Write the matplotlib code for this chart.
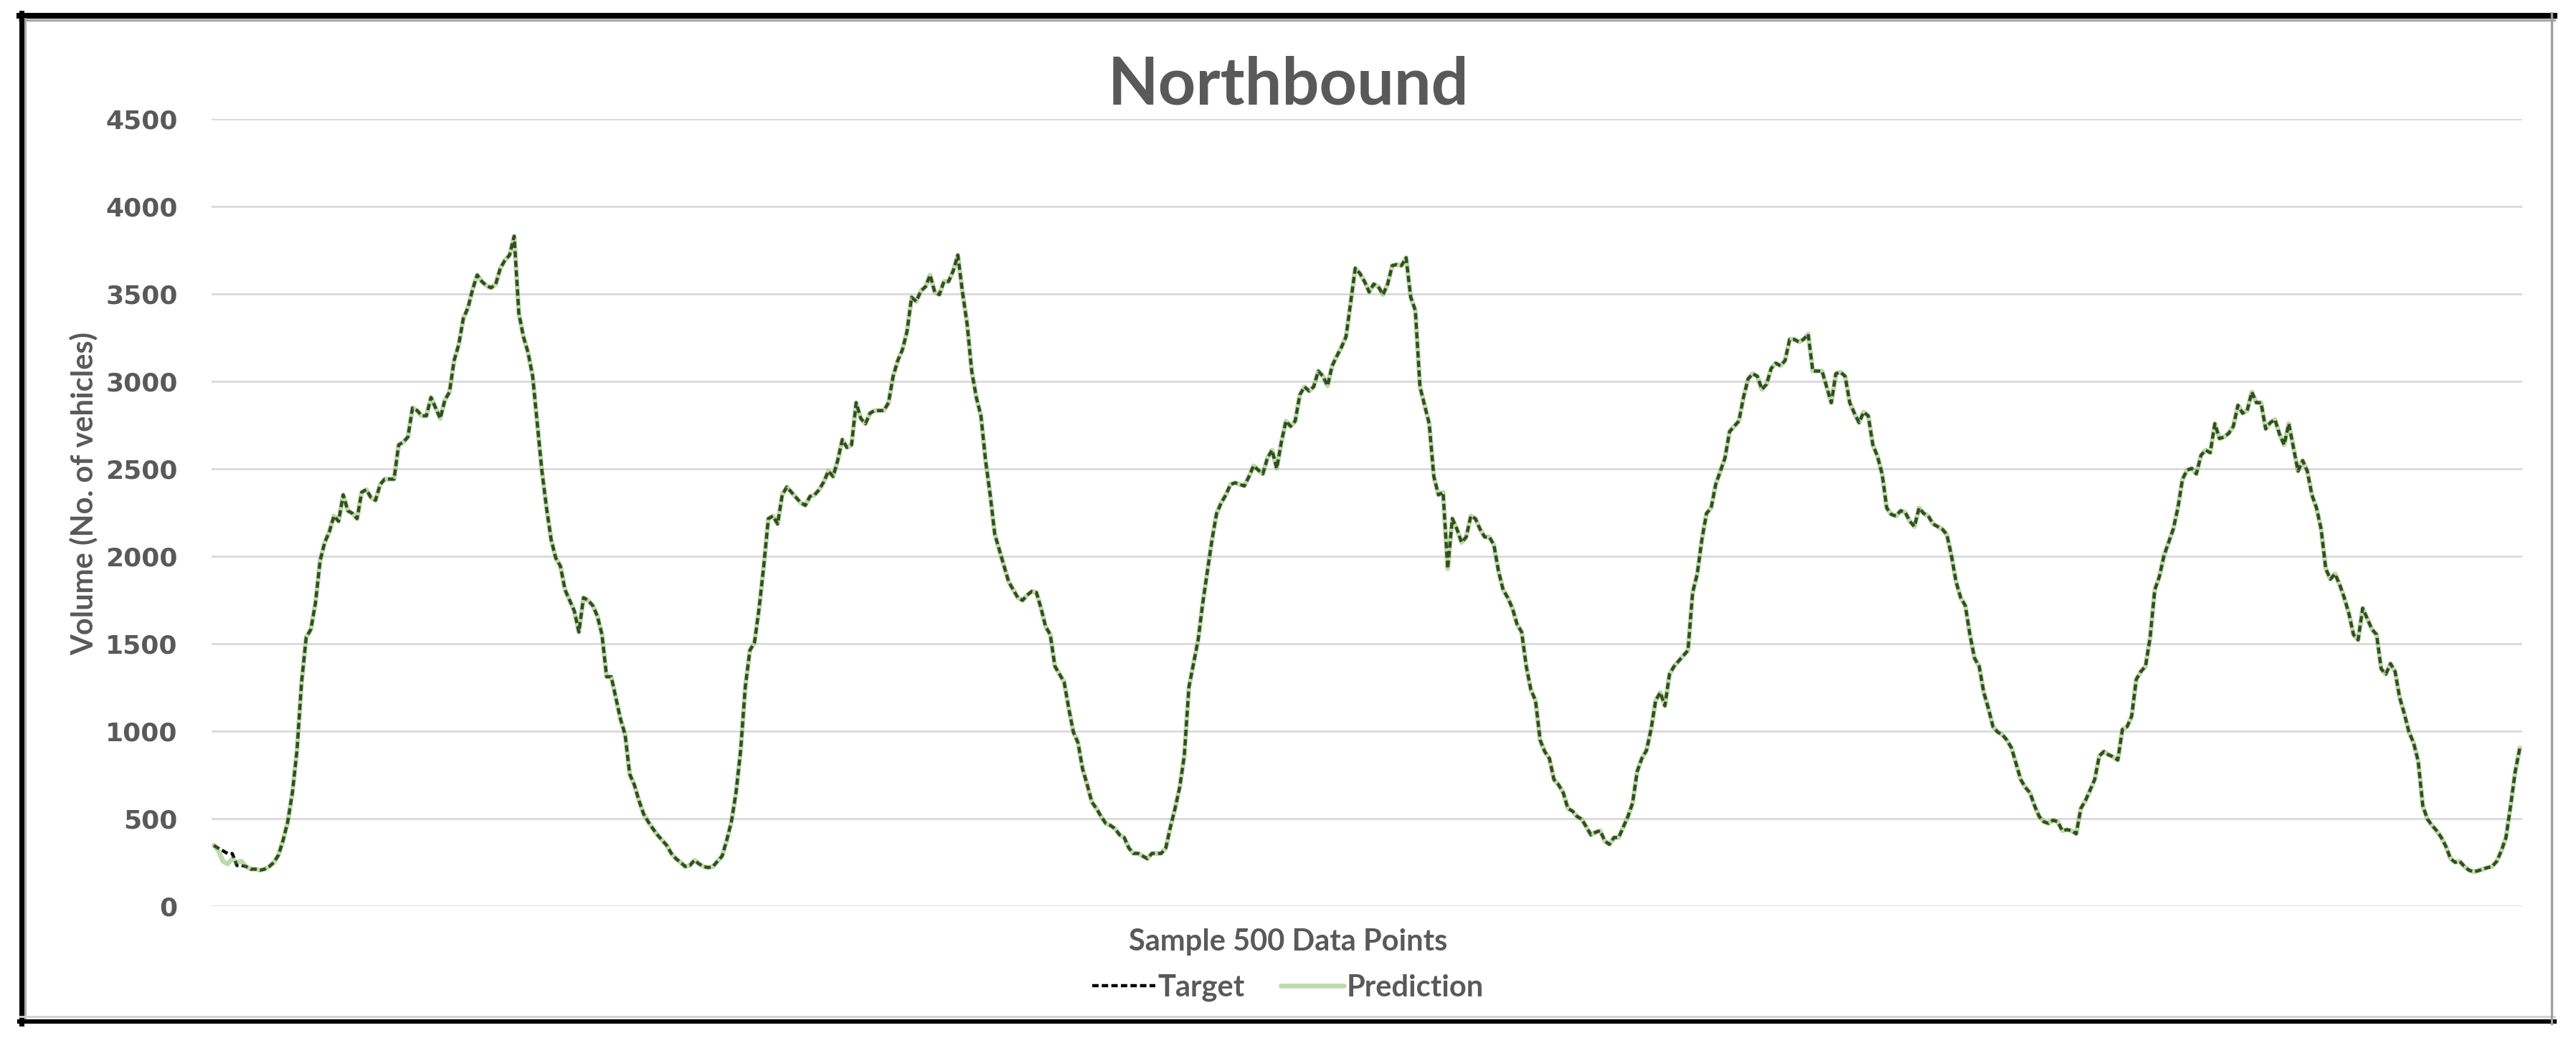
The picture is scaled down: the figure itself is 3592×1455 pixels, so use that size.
import matplotlib
matplotlib.use("Agg")
import matplotlib.pyplot as plt
from matplotlib.lines import Line2D

# hourly-ish traffic volume, 500 samples
target = [
    347, 330, 316, 300, 300, 232, 232, 226, 211, 211,
    205, 211, 226, 250, 292, 377, 482, 648, 889, 1281,
    1537, 1582, 1733, 1974, 2079, 2140, 2230, 2200, 2351, 2260,
    2245, 2215, 2366, 2381, 2336, 2320, 2411, 2441, 2441, 2441,
    2637, 2652, 2682, 2848, 2833, 2803, 2803, 2908, 2848, 2788,
    2893, 2939, 3119, 3210, 3360, 3421, 3526, 3608, 3571, 3547,
    3535, 3556, 3647, 3692, 3722, 3830, 3391, 3255, 3165, 3029,
    2758, 2487, 2276, 2095, 1989, 1944, 1808, 1748, 1688, 1567,
    1763, 1748, 1718, 1658, 1552, 1311, 1311, 1191, 1070, 980,
    754, 693, 603, 527, 482, 443, 407, 377, 347, 301,
    271, 250, 226, 232, 262, 241, 226, 220, 226, 256,
    286, 377, 482, 648, 889, 1251, 1462, 1507, 1703, 1944,
    2215, 2230, 2185, 2351, 2396, 2366, 2336, 2306, 2291, 2342,
    2351, 2381, 2426, 2487, 2456, 2547, 2667, 2622, 2637, 2878,
    2788, 2758, 2818, 2833, 2833, 2833, 2878, 3029, 3119, 3180,
    3285, 3481, 3457, 3517, 3541, 3608, 3511, 3496, 3571, 3571,
    3632, 3722, 3511, 3330, 3059, 2908, 2803, 2547, 2351, 2125,
    2034, 1944, 1854, 1808, 1763, 1748, 1778, 1799, 1793, 1703,
    1597, 1552, 1371, 1326, 1281, 1130, 995, 934, 784, 693,
    594, 558, 512, 473, 461, 443, 407, 392, 332, 301,
    301, 286, 271, 301, 301, 301, 332, 452, 558, 678,
    859, 1251, 1386, 1522, 1733, 1914, 2095, 2245, 2306, 2351,
    2411, 2420, 2411, 2402, 2456, 2517, 2493, 2471, 2562, 2607,
    2502, 2652, 2773, 2743, 2773, 2923, 2969, 2945, 2969, 3059,
    3029, 2975, 3089, 3144, 3195, 3255, 3451, 3647, 3617, 3571,
    3511, 3556, 3541, 3496, 3556, 3662, 3668, 3662, 3707, 3481,
    3406, 2969, 2863, 2758, 2456, 2351, 2366, 1929, 2215, 2155,
    2079, 2110, 2230, 2215, 2155, 2110, 2110, 2065, 1914, 1808,
    1763, 1703, 1612, 1567, 1371, 1236, 1175, 949, 883, 844,
    723, 693, 648, 558, 543, 512, 497, 452, 407, 422,
    431, 371, 353, 392, 392, 452, 512, 588, 769, 844,
    889, 1010, 1175, 1221, 1145, 1326, 1371, 1402, 1432, 1462,
    1793, 1899, 2095, 2245, 2276, 2411, 2487, 2562, 2713, 2743,
    2773, 2908, 3014, 3044, 3029, 2954, 2984, 3074, 3104, 3089,
    3119, 3240, 3240, 3225, 3240, 3270, 3059, 3059, 3059, 2969,
    2878, 3044, 3053, 3029, 2878, 2818, 2764, 2824, 2803, 2637,
    2571, 2471, 2276, 2239, 2230, 2260, 2251, 2200, 2170, 2276,
    2245, 2230, 2185, 2170, 2155, 2125, 2004, 1854, 1763, 1718,
    1552, 1417, 1371, 1221, 1130, 1025, 995, 980, 949, 904,
    814, 723, 678, 648, 573, 512, 482, 473, 491, 482,
    431, 437, 431, 413, 558, 603, 663, 723, 859, 883,
    865, 853, 835, 1010, 1025, 1085, 1296, 1341, 1371, 1537,
    1808, 1884, 2004, 2079, 2155, 2276, 2441, 2493, 2502, 2471,
    2577, 2607, 2592, 2758, 2673, 2682, 2703, 2743, 2863, 2818,
    2833, 2939, 2878, 2878, 2728, 2764, 2782, 2698, 2637, 2758,
    2622, 2487, 2547, 2487, 2351, 2276, 2155, 1929, 1869, 1899,
    1839, 1763, 1673, 1552, 1522, 1703, 1643, 1582, 1552, 1356,
    1326, 1386, 1341, 1191, 1100, 995, 934, 829, 573, 497,
    461, 431, 392, 341, 271, 250, 256, 226, 205, 196,
    202, 211, 220, 226, 256, 316, 392, 573, 769, 904,
]

# prediction only separates from the target over the first few samples
pred_head = [347, 316, 256, 241, 271, 250, 256, 226]
prediction = pred_head + target[len(pred_head):]

x = list(range(len(target)))
yticks = [0, 500, 1000, 1500, 2000, 2500, 3000, 3500, 4000, 4500]

grey = '#595959'
fig = plt.figure(figsize=(17.96, 7.275), dpi=200)
ax = fig.add_axes([0.0821, 0.1313, 0.897, 0.7546])

ax.plot(x, target, color='black', lw=1.6, linestyle=(0, (2, 1)),
        label='Target', zorder=3)
ax.plot(x, prediction, color='#70AD47', lw=2.4, alpha=0.45,
        label='Prediction', zorder=4, solid_capstyle='round')

ax.set_xlim(-0.5, len(target) - 0.5)
ax.set_ylim(0, 4500)
ax.set_yticks(yticks)
ax.set_yticklabels([str(v) for v in yticks], fontsize=13, fontweight='bold',
                   color=grey, family='DejaVu Sans')
ax.set_xticks([])
ax.tick_params(axis='y', length=0, pad=17)
ax.grid(axis='y', color='#d9d9d9', lw=1.0)
ax.set_axisbelow(True)
for s in ax.spines.values():
    s.set_visible(False)

fig.text(0.5, 0.9003, 'Northbound', ha='center', va='baseline',
         fontsize=33, fontweight='bold', color=grey, family='Lato')
fig.text(0.5, 0.0887, 'Sample 500 Data Points', ha='center', va='baseline',
         fontsize=15, fontweight='bold', color=grey, family='Lato')
fig.text(0.0326, 0.527, 'Volume (No. of vehicles)', ha='center', va='center',
         rotation=90, fontsize=15, fontweight='bold', color=grey, family='Lato')

leg = fig.legend(loc='center', bbox_to_anchor=(0.5, 0.053), ncol=2,
                 frameon=False, handlelength=2.1, handletextpad=0.1,
                 columnspacing=1.2, prop={'family': 'Lato', 'weight': 'bold', 'size': 15})
for t in leg.get_texts():
    t.set_color(grey)

# screenshot frame around the chart
W, H = 3592.0, 1455.0
def fline(x0, y0, x1, y1, c, lw):
    fig.add_artist(Line2D([x0 / W, x1 / W], [1 - y0 / H, 1 - y1 / H],
                          transform=fig.transFigure, color=c, lw=lw))

fline(27, 22, 3562, 22, 'black', 2.9)
fline(27, 28, 3562, 28, '#a6a6a6', 1.2)
fline(29.5, 18, 29.5, 1428, 'black', 2.5)
fline(34.5, 26, 34.5, 1420, '#a6a6a6', 1.0)
fline(27, 1425, 3562, 1425, 'black', 2.2)
fline(27, 1418, 3562, 1418, '#d0d0d0', 1.0)
fline(3558, 18, 3558, 1428, '#a0a0a0', 1.2)

fig.savefig('out.png', dpi=200)
